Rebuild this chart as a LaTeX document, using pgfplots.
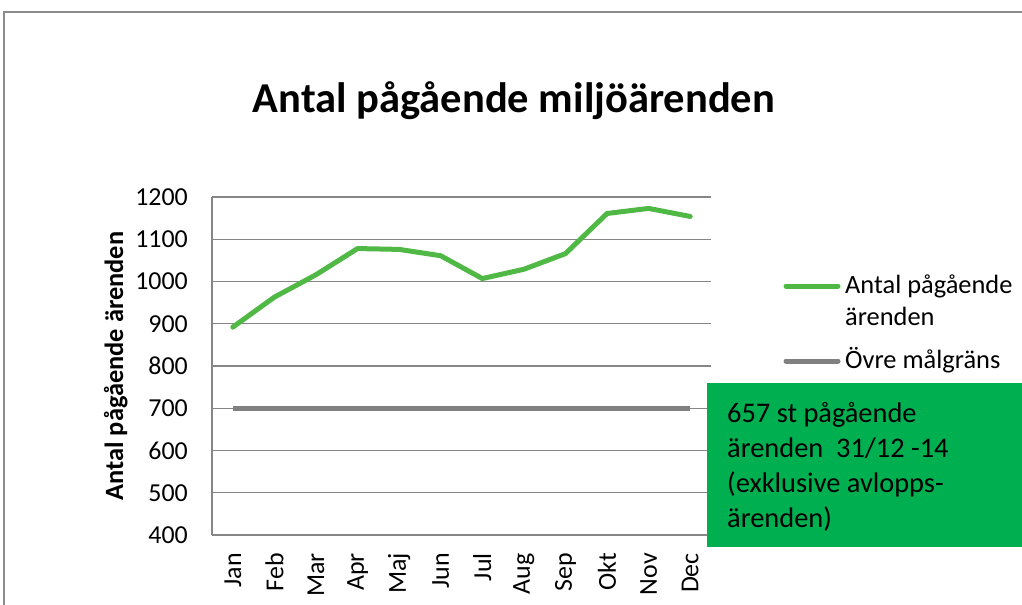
\documentclass[border=0pt]{standalone}
\usepackage{fontspec}
\setmainfont{Carlito}
\usepackage{pgfplots}
\pgfplotsset{compat=1.18}
\definecolor{linegreen}{RGB}{80,185,70}
\definecolor{linegray}{RGB}{128,128,128}
\definecolor{gridgray}{RGB}{134,134,134}
\definecolor{boxgreen}{RGB}{0,176,80}
\definecolor{framegray}{RGB}{140,140,140}
\begin{document}
\begin{tikzpicture}[x=1bp,y=-1bp]
\useasboundingbox (0,0) rectangle (1022,605);
\draw[framegray, line width=1.5bp] (4,605) -- (4,12) -- (1022,12);
\begin{axis}[
  at={(212bp,-535bp)}, anchor=south west,
  scale only axis, width=499bp, height=338bp,
  xmin=-0.5, xmax=11.5, ymin=400, ymax=1200,
  ytick={400,500,...,1200},
  xtick={0,...,11},
  xticklabels={Jan,Feb,Mar,Apr,Maj,Jun,Jul,Aug,Sep,Okt,Nov,Dec},
  axis x line*=bottom, axis y line*=left,
  axis line style={gridgray, line width=1.2bp, -},
  ymajorgrids, grid style={gridgray, line width=1.2bp},
  major tick length=0pt,
  /pgf/number format/assume math mode=true,
  /pgf/number format/1000 sep={},
  ticklabel style={font=\fontsize{26}{30}\selectfont, inner sep=0pt},
  yticklabel style={anchor=east, xshift=-24bp},
  xticklabel style={rotate=90, anchor=east, xshift=-18bp},
  clip=false,
]
\addplot[linegreen, line width=5bp, line join=round, line cap=round] coordinates {
  (0,892) (1,963) (2,1016) (3,1078) (4,1076) (5,1061)
  (6,1007) (7,1029) (8,1066) (9,1161) (10,1173) (11,1154)};
\addplot[linegray, line width=5bp] coordinates {
  (0,700) (1,700) (2,700) (3,700) (4,700) (5,700)
  (6,700) (7,700) (8,700) (9,700) (10,700) (11,700)};
\end{axis}
\node[anchor=base, inner sep=0pt, font=\fontsize{42.7}{50}\selectfont\bfseries] at (514,113) {Antal pågående miljöärenden};
\node[anchor=base, rotate=90, inner sep=0pt, font=\fontsize{26.5}{30}\selectfont\bfseries] at (123,366) {Antal pågående ärenden};
% legend
\draw[linegreen, line width=5bp, line cap=round] (786,286) -- (838,286);
\node[anchor=base west, inner sep=0pt, font=\fontsize{26.5}{30}\selectfont] at (845,294) {Antal pågående};
\node[anchor=base west, inner sep=0pt, font=\fontsize{26.5}{30}\selectfont] at (845,325) {ärenden};
\draw[linegray, line width=5bp, line cap=round] (786,361) -- (838,361);
\node[anchor=base west, inner sep=0pt, font=\fontsize{26.5}{30}\selectfont] at (845,368) {Övre målgräns};
% box
\fill[boxgreen] (707,383) rectangle (1022,547);
\begin{scope}[every node/.style={anchor=base west, inner sep=0pt, font=\fontsize{28.5}{34}\selectfont}]
\node at (727,422) {657 st pågående};
\node at (727,457) {ärenden\ \ 31/12 -14};
\node at (727,492) {(exklusive avlopps-};
\node at (727,527) {ärenden)};
\end{scope}
\end{tikzpicture}
\end{document}
